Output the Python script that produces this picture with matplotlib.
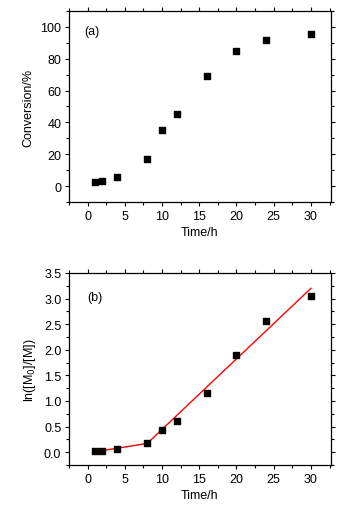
import numpy as np
import matplotlib.pyplot as plt
from matplotlib.ticker import MultipleLocator

plt.rcParams['font.family'] = ['Liberation Sans', 'DejaVu Sans']
plt.rcParams['font.size'] = 9

# Data
time_h = [1, 2, 4, 8, 10, 12, 16, 20, 24, 30]
conversion = [2.5, 3.0, 5.5, 17.0, 35.5, 45.5, 69.0, 85.0, 92.0, 95.5]
ln_ratio = [0.02, 0.03, 0.06, 0.18, 0.44, 0.60, 1.16, 1.90, 2.56, 3.06]

# Two-stage linear fit drawn in panel (b)
fit_x = [1, 8, 30]
fit_y = [0.01, 0.17, 3.20]

fig = plt.figure(figsize=(3.58, 5.10), dpi=100)
ax1 = fig.add_axes([0.1927, 0.602, 0.732, 0.3745])
ax2 = fig.add_axes([0.1927, 0.0863, 0.732, 0.3765])

def style(ax):
    ax.tick_params(which='both', direction='out', top=True, right=True,
                   labeltop=False, labelright=False, width=0.8, pad=2.5)
    ax.tick_params(which='major', length=3)
    ax.tick_params(which='minor', length=2)
    for s in ax.spines.values():
        s.set_linewidth(0.9)
    ax.set_xlim(-2.5, 32.7)
    ax.xaxis.set_major_locator(MultipleLocator(5))
    ax.xaxis.set_minor_locator(MultipleLocator(2.5))
    ax.set_xlabel('Time/h', labelpad=3)

ax1.scatter(time_h, conversion, marker='s', s=24, color='black', zorder=3)
style(ax1)
ax1.set_ylim(-10, 110)
ax1.yaxis.set_major_locator(MultipleLocator(20))
ax1.yaxis.set_minor_locator(MultipleLocator(10))
ax1.set_ylabel('Conversion/%', labelpad=4)
ax1.text(0.06, 0.895, '(a)', transform=ax1.transAxes, va='center')

ax2.scatter(time_h, ln_ratio, marker='s', s=24, color='black', zorder=3)
ax2.plot(fit_x, fit_y, color='red', lw=1, zorder=2)
style(ax2)
ax2.set_ylim(-0.25, 3.5)
ax2.yaxis.set_major_locator(MultipleLocator(0.5))
ax2.yaxis.set_minor_locator(MultipleLocator(0.25))
ax2.yaxis.set_major_formatter(plt.FormatStrFormatter('%.1f'))
ax2.set_ylabel(r'ln([M$_0$]/[M])', labelpad=4)
ax2.text(0.07, 0.875, '(b)', transform=ax2.transAxes, va='center')

fig.savefig('out.png', dpi=100)
